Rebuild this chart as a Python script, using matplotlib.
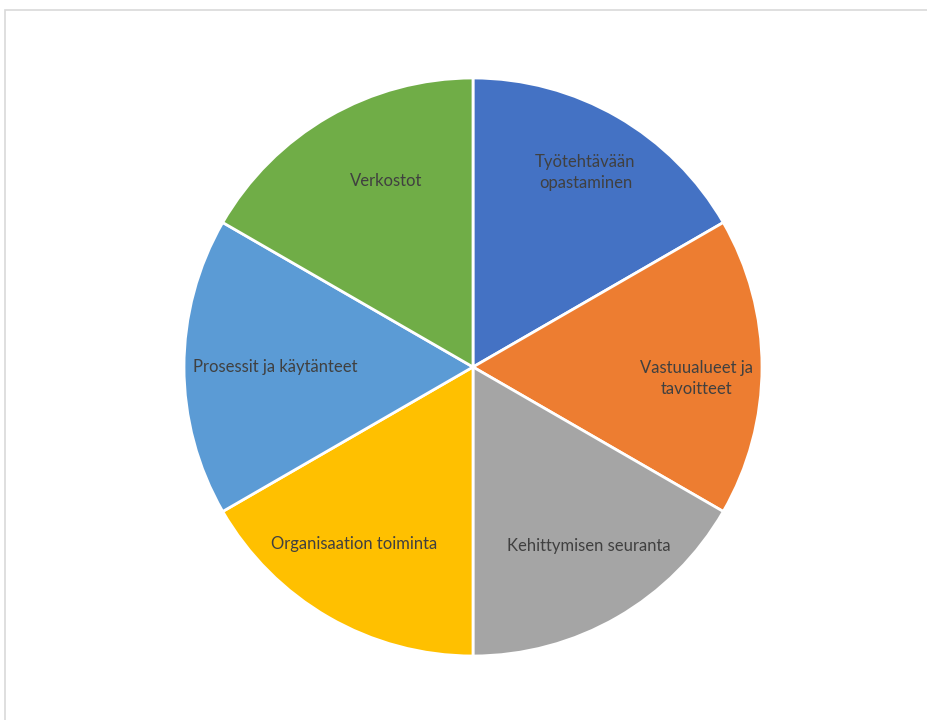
import numpy as np
import matplotlib.pyplot as plt
import matplotlib.patches as patches

# data
labels = ["Työtehtävään\nopastaminen", "Vastuualueet ja\ntavoitteet", "Kehittymisen seuranta",
          "Organisaation toiminta", "Prosessit ja käytänteet", "Verkostot"]
sizes = [1, 1, 1, 1, 1, 1]
colors = ["#4472C4", "#ED7D31", "#A5A5A5", "#FFC000", "#5B9BD5", "#70AD47"]
label_r = [0.778, 0.776, 0.737, 0.737, 0.685, 0.71]
label_dang = [0, -3, 3, -4, 0, -5]   # small angular offsets of labels (deg)

fig = plt.figure(figsize=(9.28, 7.2), dpi=100)

# outer chart border (light grey)
fig.patches.append(patches.Rectangle((5 / 928, -0.05), 1.0, 1 - 10 / 720 + 0.05,
                                     transform=fig.transFigure, fill=False,
                                     edgecolor="#d9d9d9", linewidth=1.2))

cx, cy, r = 473, 367, 289
ax = fig.add_axes([(cx - r) / 928, (720 - cy - r) / 720, 2 * r / 928, 2 * r / 720])
wedges, _ = ax.pie(sizes, colors=colors, startangle=90, counterclock=False,
                   wedgeprops=dict(edgecolor="white", linewidth=2))
ax.set_xlim(-1, 1)
ax.set_ylim(-1, 1)

for w, lab, lr, da in zip(wedges, labels, label_r, label_dang):
    ang = np.deg2rad((w.theta1 + w.theta2) / 2 + da)
    ax.text(lr * np.cos(ang), lr * np.sin(ang), lab, ha="center", va="center",
            fontsize=12, color="#404040", family=["Lato", "DejaVu Sans"],
            linespacing=1.4)

plt.savefig("out.png", dpi=100)
